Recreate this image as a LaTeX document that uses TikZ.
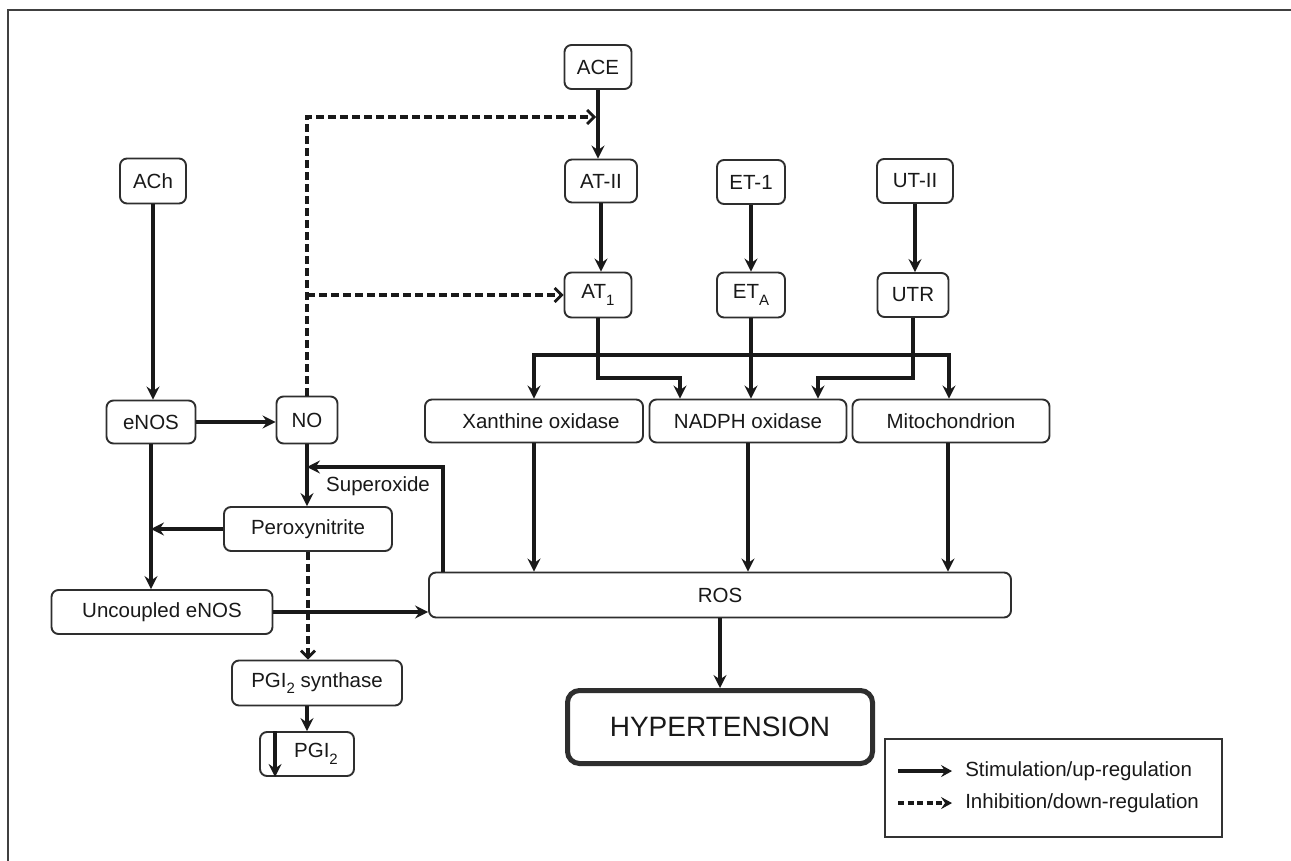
\documentclass[tikz,border=0pt]{standalone}
\usepackage{fontspec}
\setmainfont{Liberation Sans}
\usetikzlibrary{arrows.meta,calc}
\newcommand{\mysub}[1]{\raisebox{-0.32em}{\fontsize{15}{15}\selectfont #1}}
\begin{document}
\begin{tikzpicture}[x=1pt,y=-1pt,
 box/.style={draw=black!82,line width=1.9pt,rounded corners=7pt,fill=white,inner sep=0pt,
   font=\fontsize{20.5}{24}\selectfont,text=black!90},
 arr/.style={line width=3.2pt,draw=black!90,-{Stealth[length=13pt,width=13pt,inset=4.5pt]}},
 dsh/.style={line width=3.2pt,draw=black!90,dash pattern=on 8pt off 4pt,
   -{Straight Barb[length=7pt,width=14pt,line width=2.8pt]}},
 lbl/.style={font=\fontsize{20.5}{24}\selectfont,text=black!90,inner sep=0pt}
]
\useasboundingbox (0,0) rectangle (1291,861);
\fill[white] (0,0) rectangle (1291,861);
\draw[line width=2.2pt,black!75] (8,861) -- (8,10) -- (1291,10);

% top row
\node[box,minimum width=67pt,minimum height=44pt] (ACE) at (598,67) {ACE};
\node[box,minimum width=72pt,minimum height=43pt] (ATII) at (601,181) {AT-II};
\node[box,minimum width=68pt,minimum height=44pt] (ET1) at (751,182) {ET-1};
\node[box,minimum width=76pt,minimum height=44pt] (UTII) at (915,181) {UT-II};
\node[box,minimum width=66pt,minimum height=45pt] (ACh) at (153,181) {ACh};
\node[box,minimum width=67pt,minimum height=45pt] (AT1) at (598,295) {AT\mysub{1}};
\node[box,minimum width=68pt,minimum height=45pt] (ETA) at (751,295) {ET\mysub{A}};
\node[box,minimum width=71pt,minimum height=44pt] (UTR) at (913,295) {UTR};

% middle
\node[box,minimum width=89pt,minimum height=43pt] (eNOS) at (151,422) {eNOS};
\node[box,minimum width=61pt,minimum height=47pt] (NO) at (307,420) {NO};
\node[box,minimum width=218pt,minimum height=43pt] (Xan) at (534,421) {\hspace*{14pt}Xanthine oxidase};
\node[box,minimum width=197pt,minimum height=43pt] (NADPH) at (748,421) {NADPH oxidase};
\node[box,minimum width=197pt,minimum height=43pt] (Mito) at (951,421) {Mitochondrion};
\node[box,minimum width=168pt,minimum height=44pt] (Perox) at (308,529) {Peroxynitrite};
\node[box,minimum width=221pt,minimum height=44pt] (Unc) at (162,612) {Uncoupled eNOS};
\node[box,minimum width=582pt,minimum height=45pt] (ROS) at (720,595) {ROS};
\node[box,minimum width=170pt,minimum height=45pt] (PGIs) at (317,683) {PGI\mysub{2} synthase};
\node[box,minimum width=94pt,minimum height=44pt] (PGI2) at (307,754) {\hspace*{18pt}PGI\mysub{2}};
\node[box,line width=5pt,rounded corners=12pt,minimum width=305pt,minimum height=73pt,
  font=\fontsize{28}{32}\selectfont] (HYP) at (720,727) {HYPERTENSION};

% connectors
\draw[arr] (ACE.south) -- (ACE.south |- ATII.north);
\draw[arr] (ATII.south) -- (ATII.south |- AT1.north);
\draw[arr] (ET1.south) -- (ET1.south |- ETA.north);
\draw[arr] (UTII.south) -- (UTII.south |- UTR.north);
\draw[arr] (ACh.south) -- (ACh.south |- eNOS.north);
\draw[arr] (eNOS.east) -- (eNOS.east -| NO.west);
\draw[arr] (eNOS.south) -- (eNOS.south |- Unc.north);
\draw[arr] (Perox.west) -- (Perox.west -| eNOS.south);
\draw[arr] (NO.south) -- (NO.south |- Perox.north);
\draw[arr] (Unc.east) -- (Unc.east -| ROS.west);

\coordinate (fb) at (443,467);
\draw[arr] (ROS.north -| fb) -- (fb) -- (fb -| NO.south);
\node[lbl,anchor=west] (sup) at (326,486) {Superoxide};

\coordinate (br) at (0,355);
\coordinate (tw) at (0,378);
\coordinate (na) at ([xshift=-68pt]NADPH.north);
\coordinate (nb) at ([xshift=70pt]NADPH.north);
\draw[arr] (ETA.south) -- (ETA.south |- NADPH.north);
\draw[arr] (ETA.south |- br) -| (Xan.north);
\draw[arr] (ETA.south |- br) -| ([xshift=-2pt]Mito.north);
\draw[arr] (AT1.south) |- (na |- tw) -- (na);
\draw[arr] (UTR.south) |- (nb |- tw) -- (nb);

\draw[arr] (Xan.south) -- (Xan.south |- ROS.north);
\draw[arr] (NADPH.south) -- (NADPH.south |- ROS.north);
\draw[arr] ([xshift=-3pt]Mito.south) -- ([xshift=-3pt]Mito.south |- ROS.north);
\draw[arr] (ROS.south) -- (HYP.north);

% dashed
\coordinate (dtop) at (0,117);
\draw[dsh] (NO.north) -- (NO.north |- dtop) -- ([xshift=-2pt]ACE.south |- dtop);
\draw[dsh] (NO.north |- AT1.west) -- (AT1.west);
\draw[dsh] (Perox.south) -- (Perox.south |- PGIs.north);

\draw[arr] (PGI2.north |- PGIs.south) -- (PGI2.north);
\draw[arr] ([xshift=16pt]PGI2.north west) -- ([xshift=16pt]PGI2.south west);

% legend
\node[draw=black!80,line width=1.9pt,minimum width=337pt,minimum height=98pt,inner sep=0pt] (leg) at (1053.5,788) {};
\coordinate (l1a) at ([xshift=14pt,yshift=-33pt]leg.north west);
\coordinate (l1b) at ([xshift=68pt,yshift=-33pt]leg.north west);
\coordinate (l2a) at ([xshift=14pt,yshift=-65pt]leg.north west);
\coordinate (l2b) at ([xshift=68pt,yshift=-65pt]leg.north west);
\draw[line width=3.2pt,draw=black!90,-{Stealth[length=11pt,width=12pt,inset=4pt]}] (l1a) -- (l1b);
\draw[line width=3.2pt,draw=black!90,dash pattern=on 6pt off 3.5pt,-{Stealth[length=11pt,width=12pt,inset=4pt]}] (l2a) -- (l2b);
\node[lbl,anchor=west] (t1) at ([xshift=81pt,yshift=-33pt]leg.north west) {Stimulation/up-regulation};
\node[lbl,anchor=west] (t2) at ([xshift=81pt,yshift=-65pt]leg.north west) {Inhibition/down-regulation};
\end{tikzpicture}
\end{document}
